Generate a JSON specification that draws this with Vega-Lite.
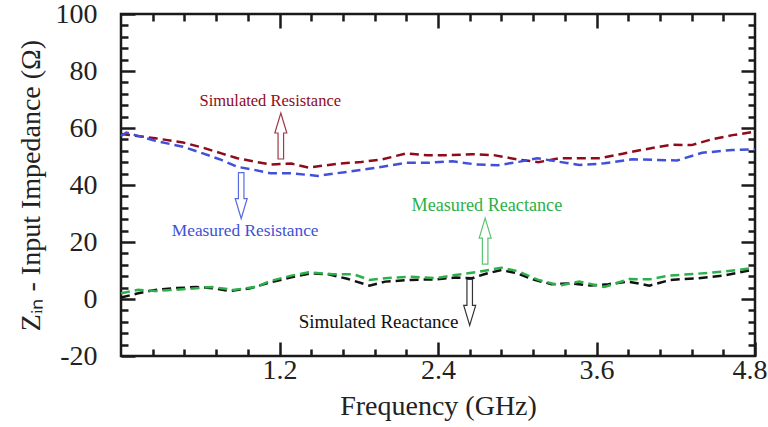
{
  "$schema": "https://vega.github.io/schema/vega-lite/v6.json",
  "width": 634,
  "height": 342,
  "autosize": "none",
  "padding": {"left": 121, "top": 14, "right": 13, "bottom": 71},
  "background": "white",
  "config": {
    "font": "Liberation Serif, Times New Roman, serif",
    "view": {"stroke": "#1a1a1a", "strokeWidth": 2.5},
    "axis": {"grid": false, "domain": false, "labelFont": "Liberation Serif, Times New Roman, serif", "titleFont": "Liberation Serif, Times New Roman, serif", "labelFontSize": 28, "titleFontSize": 28, "labelColor": "#222222", "titleColor": "#222222", "tickColor": "#1a1a1a", "tickWidth": 2.5, "titleFontWeight": "normal"}
  },
  "datasets": {
    "curves": [
      {"f": 0, "v": 57.9, "s": "Simulated Resistance"},
      {"f": 0.26, "v": 56.4, "s": "Simulated Resistance"},
      {"f": 0.47, "v": 54.9, "s": "Simulated Resistance"},
      {"f": 0.62, "v": 53.1, "s": "Simulated Resistance"},
      {"f": 0.76, "v": 51.1, "s": "Simulated Resistance"},
      {"f": 0.88, "v": 49.4, "s": "Simulated Resistance"},
      {"f": 1.01, "v": 48.2, "s": "Simulated Resistance"},
      {"f": 1.13, "v": 47.2, "s": "Simulated Resistance"},
      {"f": 1.29, "v": 47.5, "s": "Simulated Resistance"},
      {"f": 1.42, "v": 46.1, "s": "Simulated Resistance"},
      {"f": 1.63, "v": 47.4, "s": "Simulated Resistance"},
      {"f": 1.82, "v": 48.1, "s": "Simulated Resistance"},
      {"f": 1.98, "v": 49.0, "s": "Simulated Resistance"},
      {"f": 2.16, "v": 51.1, "s": "Simulated Resistance"},
      {"f": 2.32, "v": 50.4, "s": "Simulated Resistance"},
      {"f": 2.51, "v": 50.5, "s": "Simulated Resistance"},
      {"f": 2.66, "v": 50.8, "s": "Simulated Resistance"},
      {"f": 2.82, "v": 50.5, "s": "Simulated Resistance"},
      {"f": 3.0, "v": 49.0, "s": "Simulated Resistance"},
      {"f": 3.16, "v": 48.0, "s": "Simulated Resistance"},
      {"f": 3.32, "v": 49.4, "s": "Simulated Resistance"},
      {"f": 3.47, "v": 49.4, "s": "Simulated Resistance"},
      {"f": 3.63, "v": 49.4, "s": "Simulated Resistance"},
      {"f": 3.79, "v": 50.9, "s": "Simulated Resistance"},
      {"f": 3.94, "v": 52.3, "s": "Simulated Resistance"},
      {"f": 4.16, "v": 54.1, "s": "Simulated Resistance"},
      {"f": 4.32, "v": 54.0, "s": "Simulated Resistance"},
      {"f": 4.47, "v": 56.0, "s": "Simulated Resistance"},
      {"f": 4.63, "v": 57.5, "s": "Simulated Resistance"},
      {"f": 4.8, "v": 58.7, "s": "Simulated Resistance"},
      {"f": 0, "v": 57.2, "s": "Measured Resistance"},
      {"f": 0.04, "v": 58.4, "s": "Measured Resistance"},
      {"f": 0.26, "v": 55.5, "s": "Measured Resistance"},
      {"f": 0.47, "v": 53.4, "s": "Measured Resistance"},
      {"f": 0.62, "v": 51.1, "s": "Measured Resistance"},
      {"f": 0.76, "v": 48.8, "s": "Measured Resistance"},
      {"f": 0.88, "v": 46.4, "s": "Measured Resistance"},
      {"f": 1.01, "v": 45.3, "s": "Measured Resistance"},
      {"f": 1.13, "v": 44.1, "s": "Measured Resistance"},
      {"f": 1.29, "v": 44.1, "s": "Measured Resistance"},
      {"f": 1.49, "v": 43.2, "s": "Measured Resistance"},
      {"f": 1.63, "v": 44.1, "s": "Measured Resistance"},
      {"f": 1.82, "v": 45.3, "s": "Measured Resistance"},
      {"f": 1.98, "v": 46.4, "s": "Measured Resistance"},
      {"f": 2.16, "v": 47.8, "s": "Measured Resistance"},
      {"f": 2.32, "v": 47.8, "s": "Measured Resistance"},
      {"f": 2.51, "v": 48.3, "s": "Measured Resistance"},
      {"f": 2.69, "v": 47.2, "s": "Measured Resistance"},
      {"f": 2.85, "v": 46.9, "s": "Measured Resistance"},
      {"f": 3.02, "v": 48.2, "s": "Measured Resistance"},
      {"f": 3.15, "v": 49.4, "s": "Measured Resistance"},
      {"f": 3.31, "v": 48.2, "s": "Measured Resistance"},
      {"f": 3.47, "v": 47.0, "s": "Measured Resistance"},
      {"f": 3.66, "v": 47.6, "s": "Measured Resistance"},
      {"f": 3.87, "v": 49.0, "s": "Measured Resistance"},
      {"f": 4.06, "v": 48.8, "s": "Measured Resistance"},
      {"f": 4.21, "v": 48.6, "s": "Measured Resistance"},
      {"f": 4.4, "v": 51.3, "s": "Measured Resistance"},
      {"f": 4.63, "v": 52.3, "s": "Measured Resistance"},
      {"f": 4.8, "v": 52.5, "s": "Measured Resistance"},
      {"f": 0, "v": 0.5, "s": "Simulated Reactance"},
      {"f": 0.13, "v": 2.0, "s": "Simulated Reactance"},
      {"f": 0.26, "v": 3.2, "s": "Simulated Reactance"},
      {"f": 0.41, "v": 3.8, "s": "Simulated Reactance"},
      {"f": 0.57, "v": 4.2, "s": "Simulated Reactance"},
      {"f": 0.69, "v": 3.8, "s": "Simulated Reactance"},
      {"f": 0.82, "v": 2.8, "s": "Simulated Reactance"},
      {"f": 0.97, "v": 3.7, "s": "Simulated Reactance"},
      {"f": 1.13, "v": 5.8, "s": "Simulated Reactance"},
      {"f": 1.29, "v": 7.6, "s": "Simulated Reactance"},
      {"f": 1.44, "v": 9.0, "s": "Simulated Reactance"},
      {"f": 1.57, "v": 8.7, "s": "Simulated Reactance"},
      {"f": 1.72, "v": 7.0, "s": "Simulated Reactance"},
      {"f": 1.88, "v": 4.7, "s": "Simulated Reactance"},
      {"f": 2.0, "v": 6.1, "s": "Simulated Reactance"},
      {"f": 2.19, "v": 6.7, "s": "Simulated Reactance"},
      {"f": 2.38, "v": 6.9, "s": "Simulated Reactance"},
      {"f": 2.53, "v": 7.5, "s": "Simulated Reactance"},
      {"f": 2.66, "v": 7.3, "s": "Simulated Reactance"},
      {"f": 2.75, "v": 8.7, "s": "Simulated Reactance"},
      {"f": 2.88, "v": 10.2, "s": "Simulated Reactance"},
      {"f": 3.0, "v": 9.0, "s": "Simulated Reactance"},
      {"f": 3.13, "v": 6.7, "s": "Simulated Reactance"},
      {"f": 3.26, "v": 5.2, "s": "Simulated Reactance"},
      {"f": 3.41, "v": 5.5, "s": "Simulated Reactance"},
      {"f": 3.56, "v": 4.7, "s": "Simulated Reactance"},
      {"f": 3.69, "v": 5.2, "s": "Simulated Reactance"},
      {"f": 3.84, "v": 6.1, "s": "Simulated Reactance"},
      {"f": 4.0, "v": 4.7, "s": "Simulated Reactance"},
      {"f": 4.16, "v": 6.7, "s": "Simulated Reactance"},
      {"f": 4.37, "v": 7.3, "s": "Simulated Reactance"},
      {"f": 4.56, "v": 8.2, "s": "Simulated Reactance"},
      {"f": 4.78, "v": 10.2, "s": "Simulated Reactance"},
      {"f": 0, "v": 2.0, "s": "Measured Reactance"},
      {"f": 0.13, "v": 3.2, "s": "Measured Reactance"},
      {"f": 0.26, "v": 2.8, "s": "Measured Reactance"},
      {"f": 0.41, "v": 3.2, "s": "Measured Reactance"},
      {"f": 0.57, "v": 3.8, "s": "Measured Reactance"},
      {"f": 0.69, "v": 4.2, "s": "Measured Reactance"},
      {"f": 0.85, "v": 3.2, "s": "Measured Reactance"},
      {"f": 1.02, "v": 4.2, "s": "Measured Reactance"},
      {"f": 1.13, "v": 6.3, "s": "Measured Reactance"},
      {"f": 1.29, "v": 8.2, "s": "Measured Reactance"},
      {"f": 1.42, "v": 9.4, "s": "Measured Reactance"},
      {"f": 1.6, "v": 8.7, "s": "Measured Reactance"},
      {"f": 1.76, "v": 8.7, "s": "Measured Reactance"},
      {"f": 1.88, "v": 6.7, "s": "Measured Reactance"},
      {"f": 2.0, "v": 7.3, "s": "Measured Reactance"},
      {"f": 2.19, "v": 7.8, "s": "Measured Reactance"},
      {"f": 2.38, "v": 7.3, "s": "Measured Reactance"},
      {"f": 2.53, "v": 8.4, "s": "Measured Reactance"},
      {"f": 2.69, "v": 9.4, "s": "Measured Reactance"},
      {"f": 2.88, "v": 11.0, "s": "Measured Reactance"},
      {"f": 3.0, "v": 9.8, "s": "Measured Reactance"},
      {"f": 3.16, "v": 6.7, "s": "Measured Reactance"},
      {"f": 3.32, "v": 4.7, "s": "Measured Reactance"},
      {"f": 3.47, "v": 6.1, "s": "Measured Reactance"},
      {"f": 3.66, "v": 4.2, "s": "Measured Reactance"},
      {"f": 3.85, "v": 7.0, "s": "Measured Reactance"},
      {"f": 4.0, "v": 6.9, "s": "Measured Reactance"},
      {"f": 4.15, "v": 8.2, "s": "Measured Reactance"},
      {"f": 4.37, "v": 8.9, "s": "Measured Reactance"},
      {"f": 4.56, "v": 9.6, "s": "Measured Reactance"},
      {"f": 4.78, "v": 10.8, "s": "Measured Reactance"}
    ],
    "notes": [
      {"f": 1.13, "v": 69.5, "t": "Simulated Resistance", "s": "Simulated Resistance"},
      {"f": 0.94, "v": 23.9, "t": "Measured Resistance", "s": "Measured Resistance"},
      {"f": 2.77, "v": 32.6, "t": "Measured Reactance", "s": "Measured Reactance"},
      {"f": 1.95, "v": -8.1, "t": "Simulated Reactance", "s": "Simulated Reactance"}
    ],
    "arrows": [
      {"f": 1.21, "v": 57.2, "d": "up", "s": "Simulated Resistance"},
      {"f": 0.91, "v": 36.3, "d": "down", "s": "Measured Resistance"},
      {"f": 2.757, "v": 20.3, "d": "up", "s": "Measured Reactance"},
      {"f": 2.64, "v": -1.2, "d": "down", "s": "Simulated Reactance"}
    ]
  },
  "layer": [
    {
      "data": {"name": "curves"},
      "mark": {"type": "line", "strokeDash": [9, 5], "strokeWidth": 2.5},
      "encoding": {
        "x": {"field": "f", "type": "quantitative", "scale": {"domain": [0, 4.8], "nice": false, "zero": false},
              "axis": {"orient": "bottom", "values": [1.2, 2.4, 3.6, 4.8], "labelExpr": "format(datum.value, '.1f')", "labelFlush": true, "labelFlushOffset": 12, "tickSize": -14, "labelPadding": 14, "title": "Frequency (GHz)", "titlePadding": 8}},
        "y": {"field": "v", "type": "quantitative", "scale": {"domain": [-20, 100], "nice": false, "zero": false},
              "axis": {"orient": "left", "values": [-20, 0, 20, 40, 60, 80, 100], "labelExpr": "'' + datum.value", "tickSize": -14, "labelPadding": 38, "title": "Zᵢₙ - Input Impedance (Ω)", "titlePadding": 10}},
        "color": {"field": "s", "type": "nominal",
                  "scale": {"domain": ["Simulated Resistance", "Measured Resistance", "Measured Reactance", "Simulated Reactance"], "range": ["#8E0B1C", "#4050D8", "#2BB04A", "#111111"]},
                  "legend": null}
      }
    },
    {
      "data": {"name": "curves"},
      "mark": {"type": "point", "opacity": 0},
      "encoding": {
        "x": {"field": "f", "type": "quantitative", "scale": {"domain": [0, 4.8], "nice": false, "zero": false},
              "axis": {"orient": "bottom", "values": [0.24, 0.48, 0.72, 0.96, 1.44, 1.68, 1.92, 2.16, 2.64, 2.88, 3.12, 3.36, 3.84, 4.08, 4.32, 4.56], "tickSize": -7, "labels": false, "title": null}},
        "y": {"field": "v", "type": "quantitative", "scale": {"domain": [-20, 100], "nice": false, "zero": false},
              "axis": {"orient": "left", "values": [-16, -12, -8, -4, 4, 8, 12, 16, 24, 28, 32, 36, 44, 48, 52, 56, 64, 68, 72, 76, 84, 88, 92, 96], "tickSize": -7, "labels": false, "title": null}}
      }
    },
    {
      "data": {"name": "curves"},
      "mark": {"type": "point", "opacity": 0},
      "encoding": {
        "x": {"field": "f", "type": "quantitative", "scale": {"domain": [0, 4.8], "nice": false, "zero": false},
              "axis": {"orient": "top", "values": [1.2, 2.4, 3.6], "tickSize": -14, "labels": false, "title": null}},
        "y": {"field": "v", "type": "quantitative", "scale": {"domain": [-20, 100], "nice": false, "zero": false},
              "axis": {"orient": "right", "values": [0, 20, 40, 60, 80], "tickSize": -14, "labels": false, "title": null}}
      }
    },
    {
      "data": {"name": "curves"},
      "mark": {"type": "point", "opacity": 0},
      "encoding": {
        "x": {"field": "f", "type": "quantitative", "scale": {"domain": [0, 4.8], "nice": false, "zero": false},
              "axis": {"orient": "top", "values": [0.24, 0.48, 0.72, 0.96, 1.44, 1.68, 1.92, 2.16, 2.64, 2.88, 3.12, 3.36, 3.84, 4.08, 4.32, 4.56], "tickSize": -7, "labels": false, "title": null}},
        "y": {"field": "v", "type": "quantitative", "scale": {"domain": [-20, 100], "nice": false, "zero": false},
              "axis": {"orient": "right", "values": [-16, -12, -8, -4, 4, 8, 12, 16, 24, 28, 32, 36, 44, 48, 52, 56, 64, 68, 72, 76, 84, 88, 92, 96], "tickSize": -7, "labels": false, "title": null}}
      }
    },
    {
      "data": {"name": "notes"},
      "mark": {"type": "text", "font": "Liberation Serif, Times New Roman, serif", "align": "center", "baseline": "middle"},
      "encoding": {
        "x": {"field": "f", "type": "quantitative", "scale": {"domain": [0, 4.8], "nice": false, "zero": false}, "axis": null},
        "y": {"field": "v", "type": "quantitative", "scale": {"domain": [-20, 100], "nice": false, "zero": false}, "axis": null},
        "text": {"field": "t"},
        "size": {"field": "s", "type": "nominal",
                 "scale": {"domain": ["Simulated Resistance", "Measured Resistance", "Measured Reactance", "Simulated Reactance"], "range": [16.5, 19, 18.8, 18.6]},
                 "legend": null},
        "color": {"field": "s", "type": "nominal",
                  "scale": {"domain": ["Simulated Resistance", "Measured Resistance", "Measured Reactance", "Simulated Reactance"], "range": ["#8E0B1C", "#5060E0", "#3CBF5A", "#111111"]},
                  "legend": null}
      }
    },
    {
      "data": {"name": "arrows"},
      "mark": {"type": "point", "filled": true, "fill": "white", "fillOpacity": 1, "strokeOpacity": 1, "strokeWidth": 1.2, "size": 2116},
      "encoding": {
        "x": {"field": "f", "type": "quantitative", "scale": {"domain": [0, 4.8], "nice": false, "zero": false}, "axis": null},
        "y": {"field": "v", "type": "quantitative", "scale": {"domain": [-20, 100], "nice": false, "zero": false}, "axis": null},
        "shape": {"field": "d", "type": "nominal",
                  "scale": {"domain": ["up", "down"], "range": ["M0,-1 L0.26,-0.13 L0.12,-0.13 L0.12,1 L-0.12,1 L-0.12,-0.13 L-0.26,-0.13 Z", "M0,1 L0.26,0.13 L0.12,0.13 L0.12,-1 L-0.12,-1 L-0.12,0.13 L-0.26,0.13 Z"]},
                  "legend": null},
        "stroke": {"field": "s", "type": "nominal",
                   "scale": {"domain": ["Simulated Resistance", "Measured Resistance", "Measured Reactance", "Simulated Reactance"], "range": ["#A03A48", "#5A6AE0", "#5CC474", "#333333"]},
                   "legend": null}
      }
    }
  ],
  "resolve": {"axis": {"x": "independent", "y": "independent"}}
}
